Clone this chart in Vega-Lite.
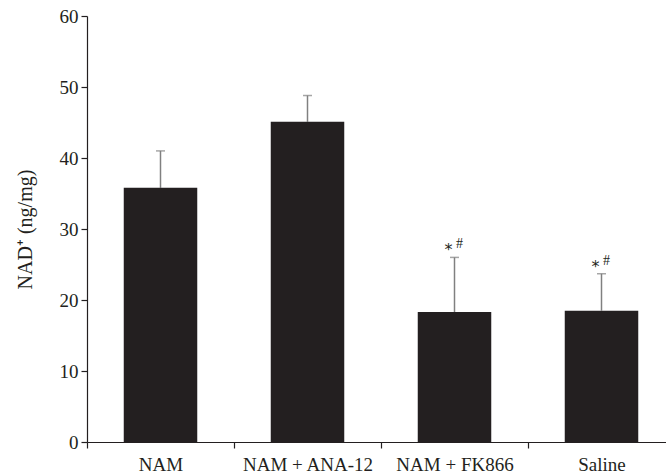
{
  "$schema": "https://vega.github.io/schema/vega-lite/v6.json",
  "width": 579,
  "height": 426,
  "autosize": {"type": "none"},
  "padding": {"left": 87, "top": 16, "right": 0, "bottom": 33},
  "background": "white",
  "config": {
    "view": {"stroke": null},
    "font": "Liberation Serif",
    "axis": {
      "labelFont": "Liberation Serif",
      "titleFont": "Liberation Serif",
      "labelColor": "#231f20",
      "titleColor": "#231f20",
      "domainColor": "#231f20",
      "tickColor": "#231f20",
      "domainWidth": 1.2,
      "tickWidth": 1.2,
      "grid": false
    }
  },
  "data": {
    "values": [
      {"group": "NAM", "mean": 35.8, "upper": 41.0, "star": "", "hash": ""},
      {"group": "NAM + ANA-12", "mean": 45.1, "upper": 48.8, "star": "", "hash": ""},
      {"group": "NAM + FK866", "mean": 18.3, "upper": 26.0, "star": "*", "hash": "#"},
      {"group": "Saline", "mean": 18.5, "upper": 23.7, "star": "*", "hash": "#"}
    ]
  },
  "encoding": {
    "x": {
      "field": "group",
      "type": "nominal",
      "sort": null,
      "scale": {"type": "band", "range": [0, 588], "paddingInner": 0, "paddingOuter": 0},
      "axis": {
        "title": null,
        "labelAngle": 0,
        "labelFontSize": 19,
        "labelPadding": 7,
        "tickSize": 6,
        "tickBand": "extent"
      }
    }
  },
  "layer": [
    {
      "mark": {"type": "rule", "color": "#808080", "strokeWidth": 1.5},
      "encoding": {
        "y": {"field": "mean", "type": "quantitative"},
        "y2": {"field": "upper"}
      }
    },
    {
      "mark": {"type": "tick", "color": "#808080", "size": 9, "thickness": 1.5, "orient": "horizontal"},
      "encoding": {
        "y": {"field": "upper", "type": "quantitative"}
      }
    },
    {
      "mark": {"type": "bar", "color": "#231f20", "width": {"band": 0.5}},
      "encoding": {
        "y": {
          "field": "mean",
          "type": "quantitative",
          "scale": {"domain": [0, 60], "nice": false},
          "axis": {
            "title": "NAD⁺ (ng/mg)",
            "titleFontSize": 20,
            "titleFontWeight": "normal",
            "titlePadding": 24,
            "labelFontSize": 19,
            "labelPadding": 3,
            "tickSize": 6,
            "values": [0, 10, 20, 30, 40, 50, 60]
          }
        }
      }
    },
    {
      "mark": {"type": "text", "fontSize": 16, "dx": -6, "dy": -7, "color": "#231f20", "font": "DejaVu Sans"},
      "encoding": {
        "y": {"field": "upper", "type": "quantitative"},
        "text": {"field": "star"}
      }
    },
    {
      "mark": {"type": "text", "fontSize": 14, "dx": 5, "dy": -13, "color": "#231f20"},
      "encoding": {
        "y": {"field": "upper", "type": "quantitative"},
        "text": {"field": "hash"}
      }
    }
  ]
}
